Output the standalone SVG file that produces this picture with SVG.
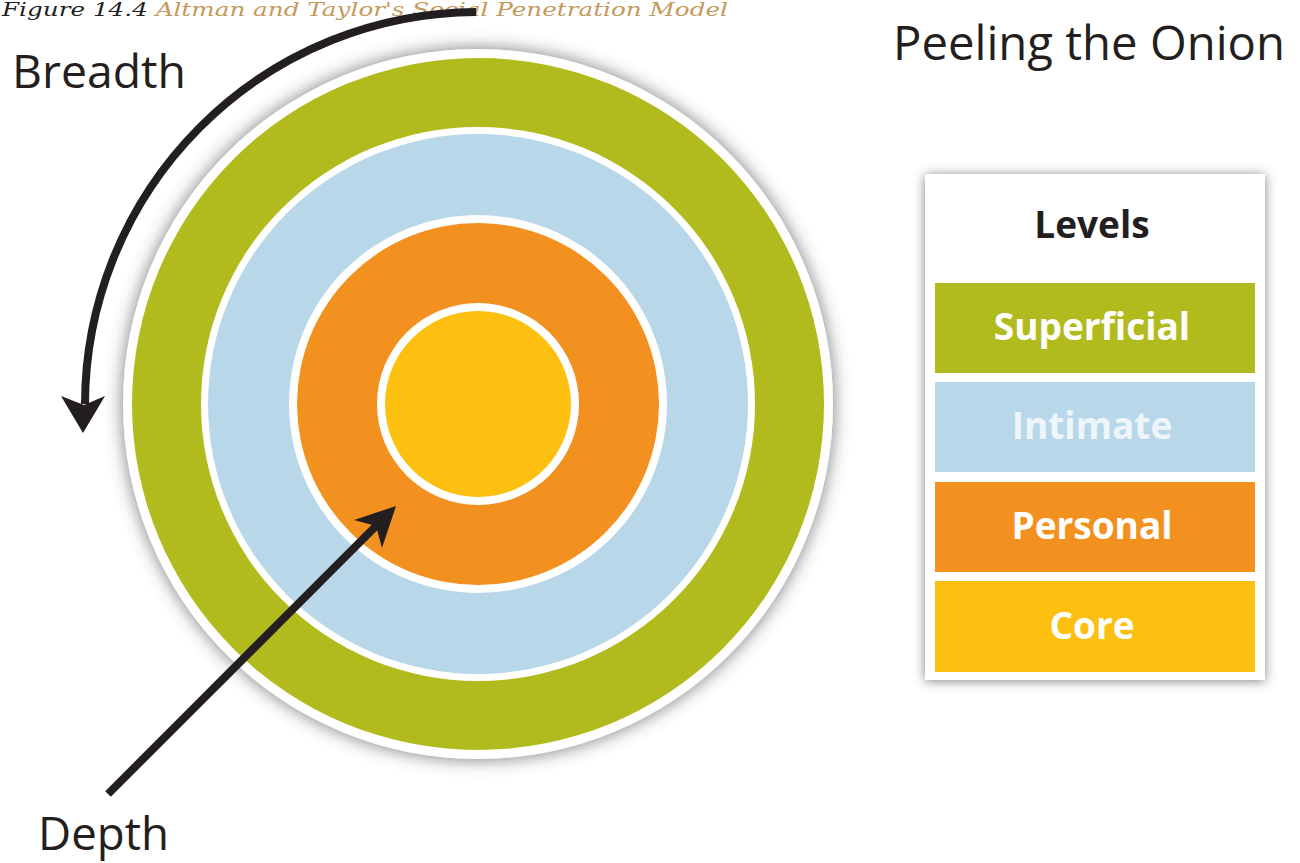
<svg xmlns="http://www.w3.org/2000/svg" width="1300" height="863" viewBox="0 0 1300 863">
<defs>
<filter id="halo" x="-20%" y="-20%" width="140%" height="140%">
<feGaussianBlur in="SourceAlpha" stdDeviation="9"/>
<feComponentTransfer><feFuncA type="linear" slope="0.75"/></feComponentTransfer>
<feOffset dx="0" dy="0" result="b"/>
<feFlood flood-color="#4a4a55"/>
<feComposite in2="b" operator="in"/>
<feMerge><feMergeNode/><feMergeNode in="SourceGraphic"/></feMerge>
</filter>
<filter id="boxsh" x="-20%" y="-20%" width="140%" height="140%">
<feGaussianBlur in="SourceAlpha" stdDeviation="6"/>
<feComponentTransfer><feFuncA type="linear" slope="0.7"/></feComponentTransfer>
<feOffset dx="0" dy="1" result="b"/>
<feFlood flood-color="#4a4a55"/>
<feComposite in2="b" operator="in"/>
<feMerge><feMergeNode/><feMergeNode in="SourceGraphic"/></feMerge>
</filter>
</defs>
<style>
.lbl{font-family:"Open Sans","Liberation Sans",sans-serif;fill:#231f20}
.leg{font-family:"Open Sans","Liberation Sans",sans-serif;font-weight:bold;font-size:37px;text-anchor:middle}
.cap{font-family:"DejaVu Serif","Liberation Serif",serif;font-style:italic;font-size:19px}
.arr{fill:none;stroke:#231f20;stroke-width:8}
</style>
<rect width="1300" height="863" fill="#ffffff"/>
<g id="caption">
<text class="cap" x="2" y="16" textLength="726" lengthAdjust="spacingAndGlyphs"><tspan fill="#231f20">Figure 14.4 </tspan><tspan fill="#c49a5c">Altman and Taylor's Social Penetration Model</tspan></text>
</g>
<g id="onion">
<circle cx="478" cy="404" r="355" fill="#ffffff" filter="url(#halo)"/>
<circle id="ring-superficial" cx="478" cy="404" r="346" fill="#b2bb1e"/>
<circle cx="478" cy="404" r="277" fill="#ffffff"/>
<circle id="ring-intimate" cx="478" cy="404" r="270" fill="#b8d8ea"/>
<circle cx="478" cy="404" r="189" fill="#ffffff"/>
<circle id="ring-personal" cx="478" cy="404" r="181" fill="#f39120"/>
<circle cx="478" cy="404" r="101" fill="#ffffff"/>
<circle id="ring-core" cx="478" cy="404" r="93" fill="#fdc010"/>
</g>
<g id="connectors">
<path class="arr" d="M 476 12 A 393 393 0 0 0 85 404"/>
<polygon points="83,433 61,396 84,405 105,396" fill="#231f20"/>
<line class="arr" x1="108" y1="794" x2="377" y2="525"/>
<polygon points="396,506 354,520 376,526 382,548" fill="#231f20"/>
</g>
<g id="breadth-label"><text class="lbl" x="12" y="88" font-size="46" textLength="174" lengthAdjust="spacingAndGlyphs">Breadth</text></g>
<g id="depth-label"><text class="lbl" x="38" y="850" font-size="46" textLength="131" lengthAdjust="spacingAndGlyphs">Depth</text></g>
<g id="title"><text class="lbl" x="893" y="60" font-size="48" textLength="392" lengthAdjust="spacingAndGlyphs">Peeling the Onion</text></g>
<g id="legend">
<rect x="925" y="174" width="340" height="506" fill="#ffffff" filter="url(#boxsh)"/>
<text class="leg" x="1092" y="238" fill="#231f20">Levels</text>
<g id="legend-superficial"><rect x="935" y="283" width="320" height="90" fill="#b2bb1e"/><text class="leg" x="1092" y="340" fill="#ffffff">Superficial</text></g>
<g id="legend-intimate"><rect x="935" y="382" width="320" height="90" fill="#b8d8ea"/><text class="leg" x="1092" y="439" fill="#eef6fb">Intimate</text></g>
<g id="legend-personal"><rect x="935" y="482" width="320" height="90" fill="#f39120"/><text class="leg" x="1092" y="539" fill="#ffffff">Personal</text></g>
<g id="legend-core"><rect x="935" y="581" width="320" height="91" fill="#fdc010"/><text class="leg" x="1092" y="639" fill="#ffffff">Core</text></g>
</g>
</svg>
